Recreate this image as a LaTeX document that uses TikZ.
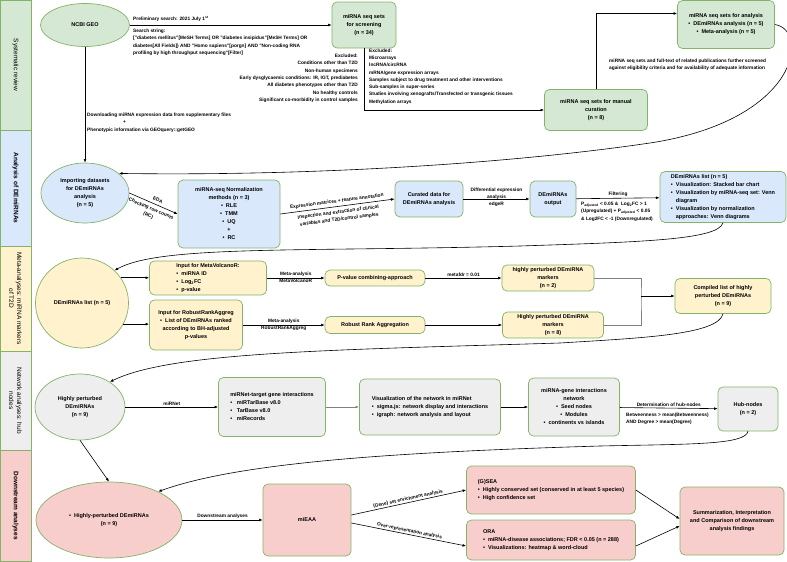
\documentclass[tikz,border=0pt]{standalone}
\usepackage{fontspec}
\setmainfont{Liberation Sans}
\usetikzlibrary{positioning, arrows.meta, shapes.geometric}

\definecolor{edge}{HTML}{82B366}
\definecolor{revfill}{HTML}{D5E8D4}
\definecolor{anafill}{HTML}{DAE8FC}
\definecolor{metafill}{HTML}{FFF2CC}
\definecolor{netfill}{HTML}{EEEEEE}
\definecolor{downfill}{HTML}{F8CECC}

\begin{document}
\begin{tikzpicture}[
  x=1pt, y=-1pt,
  >={Latex[length=3.6pt, width=2.8pt]},
  block/.style={draw=edge, line width=0.7pt, rounded corners=5pt, align=center,
    font=\fontsize{5.5}{8}\selectfont\bfseries, inner sep=1pt},
  review/.style={block, fill=revfill},
  analysis/.style={block, fill=anafill},
  meta/.style={block, fill=metafill},
  network/.style={block, fill=netfill},
  downstream/.style={block, fill=downfill},
  oval/.style={ellipse, draw=edge, line width=0.7pt, align=center, inner sep=0pt,
    font=\fontsize{5.5}{8}\selectfont\bfseries},
  band/.style={draw=edge, line width=0.7pt, rotate=-90, align=center, inner sep=1pt,
    minimum height=31pt, font=\fontsize{6.5}{8}\selectfont},
  lbl/.style={font=\fontsize{4.8}{7.3}\selectfont\bfseries, inner sep=1pt},
  arr/.style={->, line width=0.6pt},
]
\useasboundingbox (0,0) rectangle (787,562);

% --- Stage bands (far left) ---
\node[band, fill=revfill, minimum width=130pt]  (bandrev)  at (15.5,65)    {Systematic review};
\node[band, fill=anafill, minimum width=116pt]  (bandana)  at (15.5,188)   {\bfseries Analysis of DEmiRNAs};
\node[band, fill=metafill, minimum width=105pt] (bandmeta) at (15.5,298.5) {Meta-analyses: miRNA markers\\of T2D};
\node[band, fill=netfill, minimum width=99pt]   (bandnet)  at (15.5,400.5) {Network analyses: hub\\nodes};
\node[band, fill=downfill, minimum width=111pt] (banddown) at (15.5,505.5) {\bfseries Downstream analyses};

% --- Systematic review ---
\node[oval, fill=revfill, minimum width=89pt, minimum height=43pt] (geo) at (85,25) {NCBI GEO};
\node[review, minimum width=64pt, minimum height=46pt] (screen) at (364,25) {miRNA seq sets\\for screening\\(n = 34)};
\node[review, minimum width=103pt, minimum height=41pt] (manual) at (596,110) {miRNA seq sets for manual\\curation\\(n = 8)};
\node[review, minimum width=97pt, minimum height=48pt] (seqana) at (726,24.5)
  {miRNA seq sets for analysis\\\textbullet\ \ DEmiRNAs analysis (n = 5)\\\textbullet\ \ Meta-analysis (n = 5)};

\node[lbl, anchor=west] (prelim) at (132,19) {Preliminary search: 2021 July 1\textsuperscript{st}};
\node[lbl, anchor=north west, align=left] (search) at (132,28)
  {Search string:\\{}["diabetes mellitus"[MeSH Terms] OR "diabetes insipidus"[MeSH Terms] OR\\diabetes[All Fields]) AND "Homo sapiens"[porgn] AND "Non-coding RNA\\profiling by high throughput sequencing"[Filter]};
\node[lbl, anchor=north east, align=right] (exclcond) at (359,53)
  {Excluded:\\Conditions other than T2D\\Non-human specimens\\Early dysglycaemic conditions: IR, IGT, prediabetes\\All diabetes phenotypes other than T2D\\No healthy controls\\Significant co-morbidity in control samples};
\node[lbl, anchor=north west, align=left] (excltype) at (368,47.5)
  {Excluded:\\Microarrays\\lncRNA/circRNA\\mRNA/gene expression arrays\\Samples subject to drug treatment and other interventions\\Sub-samples in super-series\\Studies involving xenografts/Transfected or transgenic tissues\\Methylation arrays};
\node[lbl, anchor=north west, align=left] (screennote) at (608,58)
  {miRNA seq sets and full-text of related publications further screened\\against eligibility criteria and for availability of adequate information};
\node[lbl, anchor=north west, align=left] (dlnote) at (86,112)
  {Downloading miRNA expression data from supplementary files\\\hspace{36pt}+\\Phenotypic information via GEOquery::getGEO};

\draw[arr] (geo) -- (screen);
\draw[arr] (screen.south) |- (manual.west);
\draw[arr] (manual.north) |- ([yshift=11pt]seqana.west);

% --- Analysis of DEmiRNAs ---
\node[oval, fill=anafill, minimum width=88pt, minimum height=60pt] (imp) at (85,193) {Importing datasets\\for DEmiRNAs\\analysis\\(n = 5)};
\node[analysis, minimum width=102pt, minimum height=68pt] (norm) at (229,214)
  {miRNA-seq Normalization\\methods (n = 3)\\\textbullet\ \ RLE\\\textbullet\ \ TMM\\\textbullet\ \ UQ\\+\\\textbullet\ \ RC};
\node[analysis, minimum width=68pt, minimum height=36pt] (cur) at (429,199) {Curated data for\\DEmiRNAs analysis};
\node[analysis, minimum width=46pt, minimum height=36pt] (out) at (553,199) {DEmiRNAs\\output};
\node[analysis, minimum width=126pt, minimum height=51pt, align=left] (delist) at (723,197)
  {DEmiRNAs list (n = 5)\\\textbullet\ \ Visualization: Stacked bar chart\\\textbullet\ \ Visualization by miRNA-seq set: Venn\\\phantom{\textbullet\ \ }diagram\\\textbullet\ \ Visualization by normalization\\\phantom{\textbullet\ \ }approaches: Venn diagrams};
\node[lbl, anchor=north west, align=left] (filtnote) at (580,201)
  {P\textsubscript{adjusted} < 0.05 \&\ \ Log\textsubscript{2}FC > 1\\(Upregulated) + P\textsubscript{adjusted} < 0.05\\\& Log2FC < -1 (Downregulated)};

\draw[arr] (seqana.east) .. controls (810,30) and (800,120) .. (650,143)
  .. controls (500,165) and (300,176) .. (imp.30);
\draw[arr] (geo.south) -- (imp.north);
\draw[arr] (imp.east) -- (norm.west)
  node[lbl, pos=0.55, above=2pt, sloped] {EDA}
  node[lbl, pos=0.5, below=2.5pt, sloped, align=center] {Checking row counts\\(RC)};
\draw[arr] (norm.east) -- (cur.west)
  node[lbl, midway, above=1.5pt, sloped] {Expression matrices + feature annotation}
  node[lbl, midway, below=2.5pt, sloped, align=center] {Inspection and extraction of clinical\\variables and T2D/control samples};
\draw[arr] (cur) -- (out)
  node[lbl, midway, above=-2pt, align=center] {Differential expression\\analysis}
  node[lbl, midway, below=2pt] {edgeR};
\draw[arr] (out) -- (delist) node[lbl, midway, above] {Filtering};

% --- Meta-analyses ---
\node[oval, fill=metafill, minimum width=93pt, minimum height=90pt] (dlist) at (82,303) {DEmiRNAs list (n = 5)};
\node[meta, minimum width=117pt, minimum height=34pt, align=left] (mvin) at (208,278)
  {Input for MetaVolcanoR:\\\textbullet\ \ miRNA ID\\\textbullet\ \ Log\textsubscript{2}FC\\\textbullet\ \ p-value};
\node[meta, minimum width=93pt, minimum height=50pt] (rrin) at (196,325)
  {Input for RobustRankAggreg\\\textbullet\ \ List of DEmiRNAs ranked\\according to BH-adjusted\\p-values};
\node[meta, minimum width=100pt, minimum height=16pt] (pcomb) at (375,278) {P-value combining-approach};
\node[meta, minimum width=100pt, minimum height=17pt] (rra) at (375,325) {Robust Rank Aggregation};
\node[meta, minimum width=92pt, minimum height=26pt] (mk2) at (548,278) {highly perturbed DEmiRNA\\markers\\(n = 2)};
\node[meta, minimum width=101pt, minimum height=26pt] (mk8) at (553,325) {Highly perturbed DEmiRNA\\markers\\(n = 8)};
\node[meta, minimum width=96pt, minimum height=35pt] (comp) at (723,296) {Compiled list of highly\\perturbed DEmiRNAs\\(n = 9)};
\coordinate (join) at (641,296);

\draw[arr] (delist.south) .. controls (718,240) and (640,242) .. (520,246)
  .. controls (300,252) and (160,245) .. (dlist.45);
\draw[arr] (dlist.33) -- (dlist.33 -| mvin.west);
\draw[arr] (dlist.-27) -- (dlist.-27 -| rrin.west);
\draw[arr] (mvin) -- (pcomb)
  node[lbl, midway, above] {Meta-analysis} node[lbl, midway, below] {MetaVolcanoR};
\draw[arr] (rrin) -- (rra)
  node[lbl, midway, above] {Meta-analysis} node[lbl, midway, below] {RobustRankAggreg};
\draw[arr] (pcomb) -- (mk2) node[lbl, midway, above] {metafdr = 0.01};
\draw[arr] (rra) -- (mk8);
\draw[gray, line width=0.6pt] (mk2.east) -| (join) |- (mk8.east);
\draw[arr] (join) -- (comp.west);

% --- Network analyses ---
\node[oval, fill=netfill, minimum width=90pt, minimum height=66pt] (hp) at (80,407) {Highly perturbed\\DEmiRNAs\\(n = 9)};
\node[network, minimum width=107pt, minimum height=59pt, align=left] (mirnet) at (272,407)
  {miRNet-target gene interactions\\\textbullet\ \ \ miRTarBase v8.0\\\textbullet\ \ \ TarBase v8.0\\\textbullet\ \ \ miRecords};
\node[network, minimum width=141pt, minimum height=56pt, align=left] (vis) at (430,407)
  {Visualization of the network in miRNet\\\textbullet\ \ sigma.js: network display and interactions\\\textbullet\ \ igraph: network analysis and layout};
\node[network, minimum width=91pt, minimum height=58pt] (net) at (574,407)
  {miRNA-gene interactions\\network\\\textbullet\ \ Seed nodes\\\textbullet\ \ Modules\\\textbullet\ \ continents vs islands};
\node[network, minimum width=60pt, minimum height=44pt] (hub) at (748,409) {Hub-nodes\\(n = 2)};
\node[lbl, anchor=north west, align=left] (hubnote) at (625,412)
  {Betweenness > mean(Betweenness)\\AND Degree > mean(Degree)};

\draw[arr] (comp.south) .. controls (718,335) and (640,338) .. (560,343)
  .. controls (330,350) and (170,352) .. (hp.40);
\draw[arr] (hp) -- (mirnet) node[lbl, midway, above] {miRNet};
\draw[arr, black!50, line width=0.9pt] (mirnet) -- (vis);
\draw[arr] (vis) -- (net);
\draw[arr] (net) -- (hub) node[lbl, midway, above] {Determination of hub-nodes};

% --- Downstream analyses ---
\node[oval, fill=downfill, minimum width=146pt, minimum height=76pt] (hp2) at (109,520) {\textbullet\ \ Highly-perturbed DEmiRNAs\\(n = 9)};
\node[downstream, minimum width=88pt, minimum height=72pt] (mieaa) at (307,520) {miEAA};
\node[downstream, minimum width=169pt, minimum height=48pt, align=left] (gsea) at (551,490)
  {(G)SEA\\\textbullet\ \ Highly conserved set (conserved in at least 5 species)\\\textbullet\ \ High confidence set};
\node[downstream, minimum width=169pt, minimum height=40pt, align=left] (ora) at (551,540)
  {ORA\\\textbullet\ \ miRNA-disease associations; FDR < 0.05 (n = 288)\\\textbullet\ \ Visualizations: heatmap \& word-cloud};
\node[downstream, minimum width=104pt, minimum height=68pt] (summ) at (732,521)
  {Summarization, Interpretation\\and Comparison of downstream\\analysis findings};

\draw[arr] (hp.south) -- (hp2.north);
\draw[arr] (hub.south) .. controls (745,445) and (690,444) .. (600,446)
  .. controls (400,452) and (240,462) .. (hp2.30);
\draw[arr] (hp2) -- (mieaa) node[lbl, midway, above] {Downstream analyses};
\draw[arr] ([yshift=5pt]mieaa.east) -- (gsea.west)
  node[lbl, midway, above, sloped] {(Gene) set enrichment analysis};
\draw[arr] ([yshift=-3pt]mieaa.east) -- ([yshift=-6pt]ora.west)
  node[lbl, midway, above, sloped] {Over-representation analysis};
\draw[arr] (gsea.east) -- ([yshift=2pt]summ.west);
\draw[arr] ([yshift=-6pt]ora.east) -- ([yshift=-5pt]summ.west);

\end{tikzpicture}
\end{document}
